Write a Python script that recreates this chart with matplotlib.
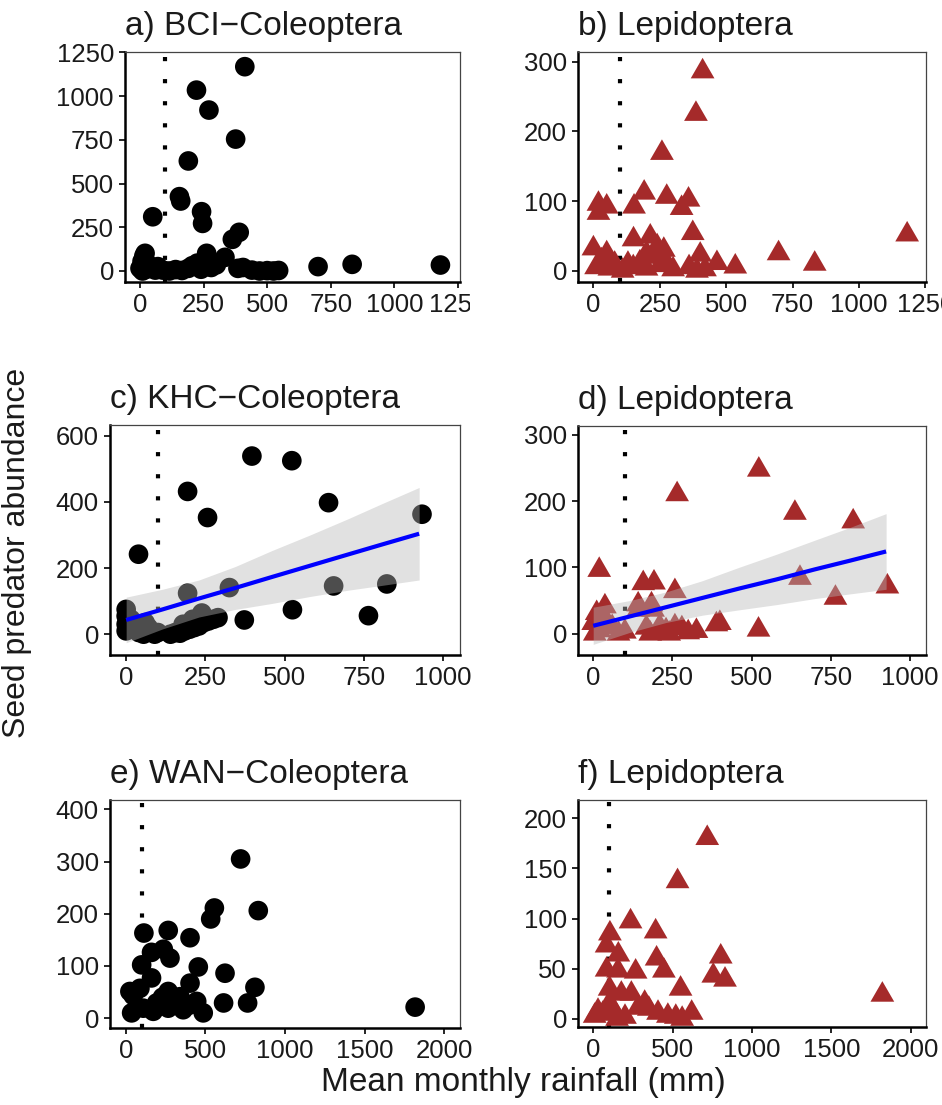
import numpy as np
import matplotlib
matplotlib.use('Agg')
import matplotlib.pyplot as plt
from matplotlib.transforms import Bbox

plt.rcParams['font.family'] = ['Liberation Sans', 'DejaVu Sans']

# a) BCI - Coleoptera
bci_col_x = [412, 222, 271, 376, 190, 155, 160, 50, 242, 246, 390, 363, 262, 20, 334, 700, 834, 1181,
             0, 8, 15, 30, 45, 60, 10, 25, 70, 90, 115, 140, 165, 190, 205, 225, 240, 260, 280, 300,
             385, 405, 440, 470, 500, 525, 545]
bci_col_y = [1168, 1034, 920, 754, 629, 425, 400, 310, 339, 272, 221, 181, 101, 101, 78, 25, 38, 34,
             15, 55, 85, 40, 20, 5, 0, 10, 25, 5, 0, 8, 3, 15, 30, 45, 10, 50, 20, 35,
             15, 20, 5, 0, 2, 0, 3]

# b) BCI - Lepidoptera
bci_lep_x = [411, 386, 258, 191, 153, 276, 358, 332, 19, 50, 19, 374, 1181, 697, 833, 151, 214, 0, 50, 402, 465, 534,
             10, 30, 60, 80, 110, 150, 175, 200, 230, 250, 270, 300, 360, 390, 420, 240, 265, 200, 130]
bci_lep_y = [286, 225, 169, 112, 92, 106, 102, 90, 96, 92, 83, 54, 52, 25, 10, 45, 49, 32, 25, 23, 11, 6,
             5, 15, 3, 10, 0, 5, 12, 3, 20, 8, 15, 2, 5, 0, 2, 35, 30, 25, 10]

# c) KHC - Coleoptera
khc_col_x = [397, 523, 194, 257, 639, 934, 39, 194, 326, 655, 823, 525, 373, 765,
             0, 0, 0, 0, 10, 15, 40, 55, 70, 90, 100, 60, 140, 155, 170, 185, 200, 215, 230, 245, 260, 275, 290, 239, 180, 210]
khc_col_y = [539, 525, 432, 353, 398, 363, 242, 124, 141, 146, 152, 74, 43, 56,
             10, 30, 55, 75, 20, 45, 5, 0, 20, 0, 5, 35, 0, 5, 3, 10, 15, 20, 25, 35, 40, 45, 50, 64, 30, 45]

# d) KHC - Lepidoptera
khc_lep_x = [523, 265, 637, 821, 19, 158, 192, 258, 653, 765, 929, 522, 142, 184, 37, 389, 400, 326,
             11, 0, 5, 20, 40, 60, 80, 100, 142, 189, 168, 210, 230, 258, 280, 300, 180, 240, 25, 50]
khc_lep_y = [247, 210, 182, 169, 96, 76, 77, 64, 84, 54, 71, 6, 44, 44, 41, 14, 16, 4,
             31, 16, 0, 5, 20, 10, 0, 3, 36, 36, 9, 11, 5, 11, 8, 2, 0, 0, 25, 12]

# e) WAN - Coleoptera
wan_col_x = [721, 556, 533, 832, 113, 266, 403, 161, 235, 277, 99, 455, 623, 161, 403, 811, 614, 765, 1818, 25, 46, 36,
             88, 266, 340, 445, 172, 266, 360, 486, 193, 109, 310, 230, 400]
wan_col_y = [305, 211, 190, 206, 163, 168, 154, 126, 132, 115, 102, 98, 86, 77, 67, 59, 29, 29, 21, 51, 43, 10,
             57, 51, 41, 32, 13, 19, 16, 10, 29, 19, 30, 40, 25]

# f) WAN - Lepidoptera
wan_lep_x = [718, 531, 235, 393, 105, 803, 399, 445, 84, 158, 84, 267, 756, 830, 550, 1821, 620,
             103, 156, 103, 240, 324, 408, 470, 9, 177, 282, 60, 130, 200, 350, 520, 560, 30, 150]
wan_lep_y = [180, 137, 97, 87, 85, 62, 60, 48, 73, 64, 49, 47, 43, 39, 30, 24, 6,
             16, 48, 30, 25, 16, 6, 3, 3, 25, 11, 5, 8, 2, 10, 2, 0, 8, 0]

# linear fits (KHC panels)
fit_x = [0, 115, 230, 345, 460, 580, 700, 810, 925]
khc_col_fit = [43, 75, 108, 140, 173, 207, 241, 272, 304]
khc_col_lo = [-26, 16, 52, 75, 93, 114, 133, 148, 164]
khc_col_hi = [112, 136, 164, 205, 253, 300, 349, 396, 444]
khc_lep_fit = [12, 26, 40, 54, 68, 82, 97, 110, 124]
khc_lep_lo = [-16, 2, 17, 28, 36, 44, 53, 60, 67]
khc_lep_hi = [40, 50, 63, 80, 100, 120, 141, 160, 181]

W, H = 942, 1105
fig = plt.figure(figsize=(W / 100, H / 100), dpi=100)


def box(l, t, r, b):
    return [l / W, 1 - b / H, (r - l) / W, (b - t) / H]


tri = [(-1, -0.577), (1, -0.577), (0, 1.155)]
red = '#A52A2A'

panels = [
    # title, rect, x, y, marker, xlim, ylim, xticks, yticks, fit
    ('a) BCI\u2212Coleoptera', box(125, 52, 460, 282), bci_col_x, bci_col_y, 'o',
     (-59, 1258), (-63, 1252), [0, 250, 500, 750, 1000, 1250], [0, 250, 500, 750, 1000, 1250], None),
    ('b) Lepidoptera', box(578, 52, 926, 282), bci_lep_x, bci_lep_y, 'tri',
     (-58, 1252), (-16, 314), [0, 250, 500, 750, 1000, 1250], [0, 100, 200, 300], None),
    ('c) KHC\u2212Coleoptera', box(110, 425, 460, 655), khc_col_x, khc_col_y, 'o',
     (-51, 1054), (-63, 633), [0, 250, 500, 750, 1000], [0, 200, 400, 600],
     (khc_col_fit, khc_col_lo, khc_col_hi)),
    ('d) Lepidoptera', box(578, 426, 926, 655), khc_lep_x, khc_lep_y, 'tri',
     (-48, 1051), (-32, 313), [0, 250, 500, 750, 1000], [0, 100, 200, 300],
     (khc_lep_fit, khc_lep_lo, khc_lep_hi)),
    ('e) WAN\u2212Coleoptera', box(110, 800, 460, 1028), wan_col_x, wan_col_y, 'o',
     (-100, 2100), (-19, 418), [0, 500, 1000, 1500, 2000], [0, 100, 200, 300, 400], None),
    ('f) Lepidoptera', box(578, 800, 926, 1027), wan_lep_x, wan_lep_y, 'tri',
     (-96, 2096), (-8, 218), [0, 500, 1000, 1500, 2000], [0, 50, 100, 150, 200], None),
]

axes = []
for title, rect, x, y, mk, xl, yl, xt, yt, fit in panels:
    ax = fig.add_axes(rect)
    ax.axvline(100, color='black', lw=3.0, linestyle=(0, (1, 4.3)), dash_capstyle='butt', zorder=1)
    if mk == 'o':
        ax.scatter(x, y, s=200, color='black', edgecolors='none', zorder=2)
    else:
        ax.scatter(x, y, s=390, marker=tri, color=red, edgecolors='none', zorder=2)
    if fit is not None:
        f, lo, hi = fit
        ax.fill_between(fit_x, lo, hi, color='#b8b8b8', alpha=0.42, lw=0, zorder=3)
        ax.plot(fit_x, f, color='#0000FF', lw=3, zorder=4, solid_capstyle='butt')
    ax.set_xlim(*xl)
    ax.set_ylim(*yl)
    ax.set_xticks(xt)
    ax.set_yticks(yt)
    ax.tick_params(labelsize=18.5, length=4, width=1.2, pad=4, colors='black', labelcolor='#1a1a1a')
    for s in ['left', 'bottom']:
        ax.spines[s].set_linewidth(1.8)
        ax.spines[s].set_color('black')
    for s in ['top', 'right']:
        ax.spines[s].set_linewidth(0.9)
        ax.spines[s].set_color('#444444')
    ax.set_title(title, loc='left', fontsize=24, pad=12, color='#1a1a1a')
    axes.append(ax)

# right-most tick label of panel a is cut off in the original layout
lbl = axes[0].get_xticklabels()[-1]
lbl.set_clip_box(Bbox([[0, 0], [470, H]]))
lbl.set_clip_on(True)

fig.text(17 / W, 0.5, 'Seed predator abundance', rotation=90, ha='center', va='center',
         fontsize=23, color='#1a1a1a')
fig.text(523 / W, 1 - 1083 / H, 'Mean monthly rainfall (mm)', ha='center', va='center',
         fontsize=24, color='#1a1a1a')

fig.savefig('out.png', dpi=100)
